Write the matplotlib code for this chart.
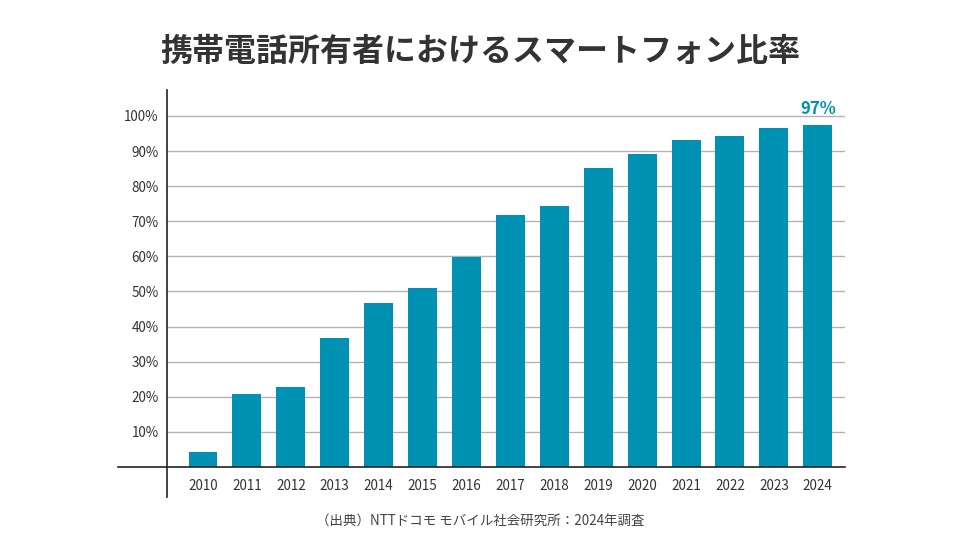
import matplotlib
matplotlib.use("Agg")
import matplotlib.pyplot as plt
from matplotlib.lines import Line2D

plt.rcParams['font.family'] = ['Noto Sans CJK JP', 'DejaVu Sans']

years = ['2010', '2011', '2012', '2013', '2014', '2015', '2016', '2017',
         '2018', '2019', '2020', '2021', '2022', '2023', '2024']
values = [4.3, 20.8, 22.8, 36.8, 46.7, 51.0, 59.8, 71.8, 74.4, 85.2,
          89.2, 93.2, 94.3, 96.6, 97.4]
yticks = [10, 20, 30, 40, 50, 60, 70, 80, 90, 100]
ytick_labels = [f'{v}%' for v in yticks]
title = '携帯電話所有者におけるスマートフォン比率'
source = '（出典）NTTドコモ モバイル社会研究所：2024年調査'
last_label = '97%'

bar_color = '#0091b3'
text_color = '#333333'

fig = plt.figure(figsize=(9.6, 5.4), dpi=100)
ax = fig.add_axes([167/960, 1-467/540, (845-167)/960, (467-90)/540])

x = list(range(len(years)))
ax.bar(x, values, width=0.66, color=bar_color, zorder=3)
ax.set_xlim(-0.82, 14.62)
ax.set_ylim(0, 107.4)

for v in yticks:
    ax.axhline(v, color='#b3b3b3', linewidth=1, zorder=1)

ax.set_yticks(yticks)
ax.set_yticklabels(ytick_labels, fontsize=9.7, color=text_color)
ax.set_xticks(x)
ax.set_xticklabels(years, fontsize=9.7, color=text_color)
ax.tick_params(axis='both', length=0)
ax.tick_params(axis='y', pad=6)
ax.tick_params(axis='x', pad=9)

for s in ax.spines.values():
    s.set_visible(False)

# baseline extended to the left
ax.plot([-1.94, 14.62], [0, 0], color='#222222', linewidth=1.2,
        clip_on=False, zorder=4)
# vertical axis line extended below
fig.add_artist(Line2D([167/960, 167/960], [1-497/540, 1-90/540],
                      color='#222222', linewidth=1.2))

ax.text(x[-1], values[-1] + 2.0, last_label, ha='center', va='bottom',
        fontsize=12, fontweight='bold', color=bar_color)

fig.text(0.5, 1-52/540, title, ha='center', va='center', fontsize=23,
         fontweight='bold', color=text_color)
fig.text(0.5, 1-521/540, source, ha='center', va='center', fontsize=9.7,
         color='#444444')

fig.savefig('out.png', dpi=100)
